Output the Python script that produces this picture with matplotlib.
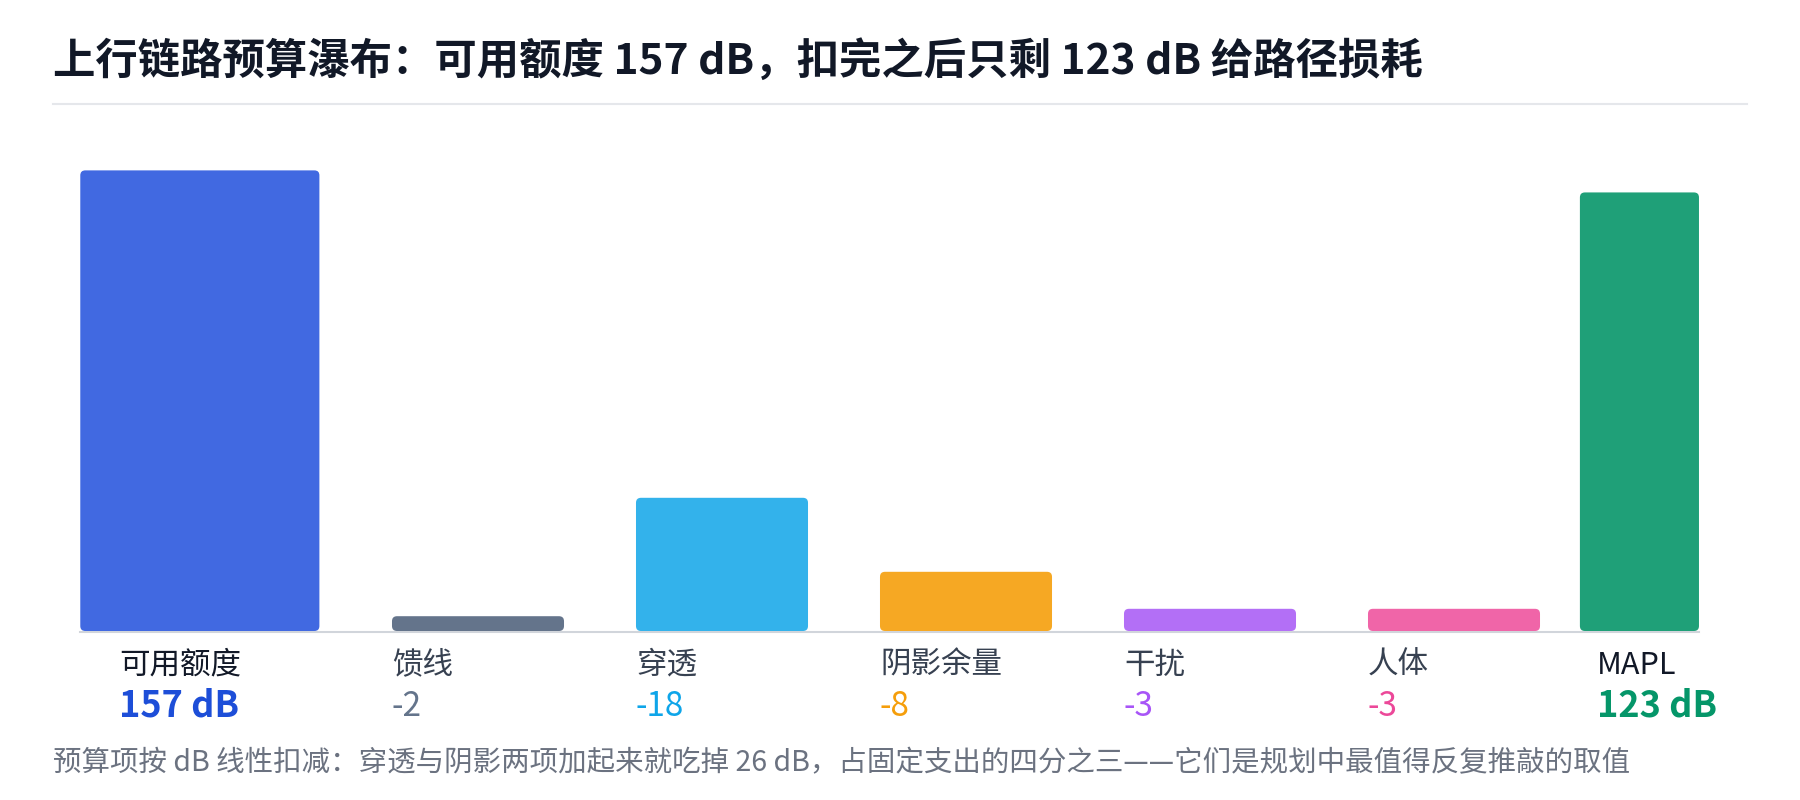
import matplotlib
matplotlib.use("Agg")
import matplotlib.pyplot as plt
from matplotlib.patches import FancyBboxPatch
from matplotlib.lines import Line2D
from matplotlib.transforms import IdentityTransform

plt.rcParams['font.family'] = ['Noto Sans CJK SC', 'DejaVu Sans']

# ---------------- data ----------------
categories = ["可用额度", "馈线", "穿透", "阴影余量", "干扰", "人体", "MAPL"]
values = [157, -2, -18, -8, -3, -3, 123]
is_total = [True, False, False, False, False, False, True]
value_labels = ["157 dB", "-2", "-18", "-8", "-3", "-3", "123 dB"]
title = "上行链路预算瀑布：可用额度 157 dB，扣完之后只剩 123 dB 给路径损耗"
footnote = ("预算项按 dB 线性扣减：穿透与阴影两项加起来就吃掉 26 dB，"
            "占固定支出的四分之三——它们是规划中最值得反复推敲的取值")

# ---------------- style ----------------
bar_colors = ["#4169e1", "#64748b", "#33b2eb", "#f6a823", "#b36ff6", "#f065a8", "#1fa078"]
text_colors = ["#1d4ed8", "#64748b", "#0ea5e9", "#f59e0b", "#a855f7", "#ec4899", "#059669"]

W, H = 1800, 800
fig = plt.figure(figsize=(W / 100, H / 100), dpi=100)
fig.patch.set_facecolor("white")

# layout (slot units)
x_pos = [-0.14, 1, 2, 3, 4, 5, 5.76]
widths = [0.98, 0.705, 0.705, 0.705, 0.705, 0.705, 0.488]
label_offset_px = [39, 0, 0, 0, 0, 0, 17]

slot_px, origin_px = 244, 234
ax_bottom_px, ax_top_px = 631, 150
ax_h = ax_bottom_px - ax_top_px
rect = [0, 1 - ax_bottom_px / H, 1, ax_h / H]
ax_tot = fig.add_axes(rect)
ax_del = fig.add_axes(rect)
for a in (ax_tot, ax_del):
    a.set_xlim(-origin_px / slot_px, (W - origin_px) / slot_px)
    a.axis("off")
    a.patch.set_alpha(0)
ax_tot.set_yscale("log")
ax_tot.set_ylim(1, 10 ** (ax_h / 209.5))
ax_del.set_ylim(0, ax_h / 7.4)

bar_lefts_px = []
bar_rights_px = []
for i, (v, tot) in enumerate(zip(values, is_total)):
    ax = ax_tot if tot else ax_del
    base = 1 if tot else 0
    bc = ax.bar(x_pos[i], abs(v), width=widths[i], bottom=base, color=bar_colors[i])
    r = bc.patches[0]
    r.set_visible(False)
    (x0, y0) = ax.transData.transform((r.get_x(), r.get_y()))
    (x1, y1) = ax.transData.transform((r.get_x() + r.get_width(), r.get_y() + r.get_height()))
    fb = FancyBboxPatch((x0, y0), x1 - x0, y1 - y0,
                        boxstyle="round,pad=0,rounding_size=5",
                        facecolor=bar_colors[i], edgecolor="none",
                        transform=IdentityTransform(), zorder=3)
    fig.add_artist(fb)
    bar_lefts_px.append(x0)
    bar_rights_px.append(x1)

# baseline
base_y = H - ax_bottom_px - 1
fig.add_artist(Line2D([bar_lefts_px[0], bar_rights_px[-1]], [base_y, base_y],
                      color="#d1d5db", lw=1.5, transform=IdentityTransform(), zorder=2))

# labels
for i, (cat, lab) in enumerate(zip(categories, value_labels)):
    xl = (bar_lefts_px[i] + label_offset_px[i]) / W
    fig.text(xl, 1 - 665 / H, cat, fontsize=22,
             color="#111827" if is_total[i] else "#374151", va="center", ha="left")
    if is_total[i]:
        fig.text(xl, 1 - 706 / H, lab, fontsize=26, fontweight="bold",
                 color=text_colors[i], va="center", ha="left")
    else:
        fig.text(xl, 1 - 706 / H, lab, fontsize=24,
                 color=text_colors[i], va="center", ha="left")

# title & separator
fig.text(53 / W, 1 - 62 / H, title, fontsize=30.5, fontweight="bold",
         color="#111827", va="center", ha="left")
fig.add_artist(Line2D([53 / W, 1747 / W], [1 - 103.5 / H] * 2, color="#e5e7eb", lw=1.5))

# footnote
fig.text(53 / W, 1 - 763 / H, footnote, fontsize=20.5, color="#6b7280", va="center", ha="left")

fig.savefig("out.png", dpi=100, facecolor="white")
